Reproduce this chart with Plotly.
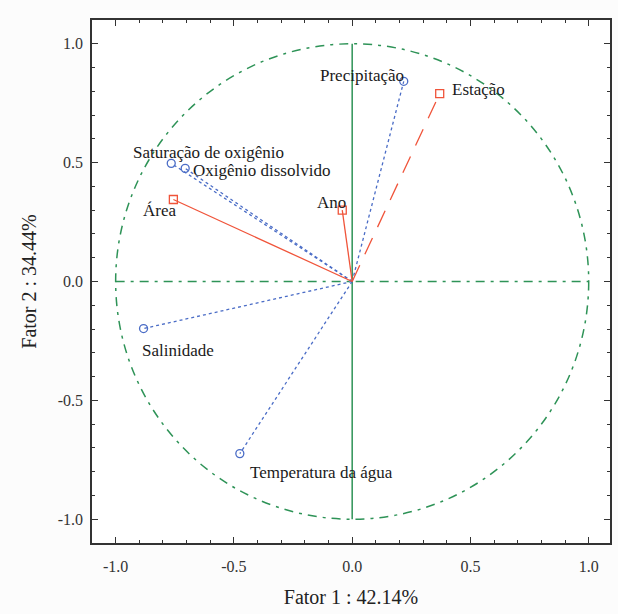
import plotly.graph_objects as go

# Loadings on the first two factors
var_names = ["Precipitação", "Saturação de oxigênio", "Oxigênio dissolvido",
             "Salinidade", "Temperatura da água"]
var_f1 = [0.218, -0.765, -0.706, -0.882, -0.475]
var_f2 = [0.842, 0.497, 0.476, -0.198, -0.724]

sup_names = ["Estação", "Área", "Ano"]
sup_f1 = [0.370, -0.756, -0.042]
sup_f2 = [0.790, 0.345, 0.300]

x_ticks = [-1.0, -0.5, 0.0, 0.5, 1.0]
y_ticks = [-1.0, -0.5, 0.0, 0.5, 1.0]
x_tick_text = ["-1.0", "-0.5", "0.0", "0.5", "1.0"]
y_tick_text = ["-1.0", "-0.5", "0.0", "0.5", "1.0"]

BLUE = "#4a6cc6"
RED = "#f0543a"
GREEN = "#2e9357"
FONT = "Liberation Serif"

# label placement: (xanchor, xshift px, yshift px)
var_label_pos = {
    "Precipitação": ("right", 2, 6),
    "Saturação de oxigênio": ("left", -40, 11),
    "Oxigênio dissolvido": ("left", 6, -2),
    "Salinidade": ("left", -4, -22),
    "Temperatura da água": ("left", 8, -19),
}
sup_label_pos = {
    "Estação": ("left", 10, 4),
    "Área": ("left", -32, -11),
    "Ano": ("right", 6, 8),
}
sup_dash = {"Estação": "18px,12px", "Área": "solid", "Ano": "solid"}

fig = go.Figure()

# unit circle and reference axes
fig.add_shape(type="circle", xref="x", yref="y", x0=-1, y0=-1, x1=1, y1=1,
              line=dict(color=GREEN, width=1.5, dash="9px,6px,3px,6px"), layer="below")
fig.add_shape(type="line", xref="x", yref="y", x0=-1, y0=0, x1=1, y1=0,
              line=dict(color=GREEN, width=1.5, dash="9px,6px,3px,6px"), layer="below")
fig.add_shape(type="line", xref="x", yref="y", x0=0, y0=-1, x1=0, y1=1,
              line=dict(color=GREEN, width=1.5), layer="below")

for name, fx, fy in zip(var_names, var_f1, var_f2):
    fig.add_trace(go.Scatter(x=[0, fx], y=[0, fy], mode="lines",
                             line=dict(color=BLUE, width=1.3, dash="dot"),
                             showlegend=False, hoverinfo="skip"))
for name, fx, fy in zip(sup_names, sup_f1, sup_f2):
    fig.add_trace(go.Scatter(x=[0, fx], y=[0, fy], mode="lines",
                             line=dict(color=RED, width=1.3, dash=sup_dash[name]),
                             showlegend=False, hoverinfo="skip"))

fig.add_trace(go.Scatter(x=var_f1, y=var_f2, mode="markers", text=var_names,
                         marker=dict(symbol="circle-open", size=8, color=BLUE,
                                     line=dict(width=1.3)),
                         showlegend=False))
fig.add_trace(go.Scatter(x=sup_f1, y=sup_f2, mode="markers", text=sup_names,
                         marker=dict(symbol="square-open", size=8, color=RED,
                                     line=dict(width=1.3)),
                         showlegend=False))

for names, xs, ys, pos in [(var_names, var_f1, var_f2, var_label_pos),
                           (sup_names, sup_f1, sup_f2, sup_label_pos)]:
    for name, fx, fy in zip(names, xs, ys):
        anchor, dx, dy = pos[name]
        fig.add_annotation(x=fx, y=fy, text=name, showarrow=False,
                           xanchor=anchor, yanchor="middle", xshift=dx, yshift=dy,
                           font=dict(family=FONT, size=17, color="#1a1a1a"))

axis_common = dict(
    showgrid=False, zeroline=False, showline=True, linecolor="#333", linewidth=1.5,
    mirror="allticks", ticks="inside", ticklen=6, tickwidth=1.3, tickcolor="#333",
    tickfont=dict(family=FONT, size=16, color="#333"),
    minor=dict(ticks="inside", dtick=0.1, ticklen=3, tickwidth=1, tickcolor="#333"),
)

fig.update_layout(
    width=618, height=614,
    margin=dict(l=92, r=6, t=20, b=71),
    paper_bgcolor="#fcfcfc", plot_bgcolor="white",
    xaxis=dict(range=[-1.1, 1.09], tickvals=x_ticks, ticktext=x_tick_text,
               ticklabelstandoff=8,
               title=dict(text="Fator 1 : 42.14%", standoff=16,
                          font=dict(family=FONT, size=20, color="#222")),
               **axis_common),
    yaxis=dict(range=[-1.1, 1.1], tickvals=y_ticks, ticktext=y_tick_text,
               ticklabelstandoff=4,
               title=dict(text="Fator 2 : 34.44%", standoff=16,
                          font=dict(family=FONT, size=20, color="#222")),
               **axis_common),
)

fig.write_html("out.html")
